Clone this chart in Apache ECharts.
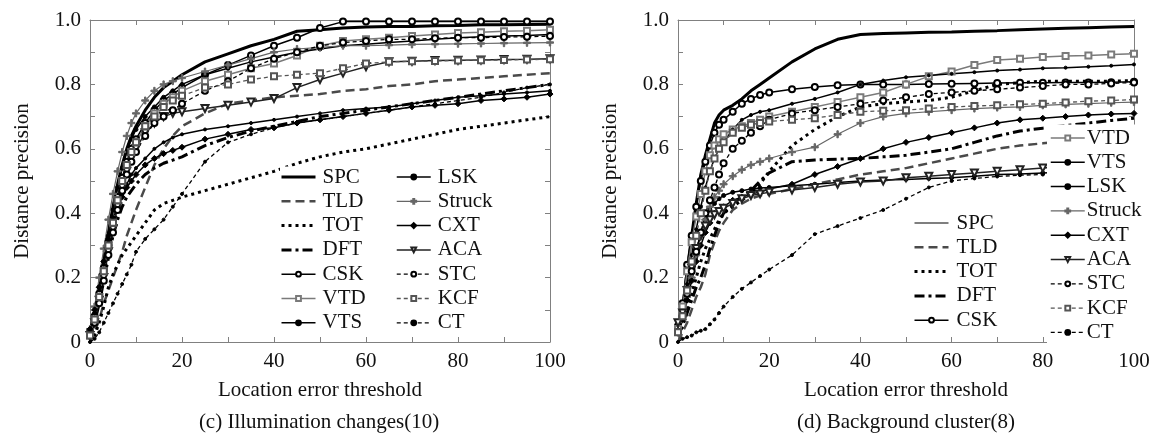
<!DOCTYPE html>
<html>
<head>
<meta charset="utf-8">
<script src="https://cdn.jsdelivr.net/npm/echarts@6/dist/echarts.min.js"></script>
<style>html,body{margin:0;padding:0;background:#fff}#c{width:1155px;height:439px}</style>
</head>
<body>
<div id="c"></div>
<script>
// Location error thresholds (x values)
const X = [0,1,2,3,4,5,6,7,8,9,10,12,14,16,18,20,25,30,35,40,45,50,55,60,65,70,75,80,85,90,95,100];
const xTicks = [0,20,40,60,80,100];
const yTicks = [0,0.2,0.4,0.6,0.8,1.0];
const names = ['SPC','TLD','TOT','DFT','CSK','VTD','VTS','LSK','Struck','CXT','ACA','STC','KCF','CT'];

// (c) Illumination changes(10)
const L_SPC = [0.03,0.09,0.17,0.26,0.34,0.42,0.49,0.55,0.60,0.64,0.67,0.72,0.76,0.79,0.81,0.83,0.87,0.895,0.92,0.94,0.965,0.97,0.975,0.978,0.98,0.98,0.982,0.983,0.985,0.985,0.986,0.987];
const L_TLD = [0.0,0.03,0.07,0.12,0.16,0.20,0.24,0.28,0.33,0.37,0.41,0.48,0.55,0.60,0.64,0.67,0.71,0.74,0.75,0.76,0.765,0.77,0.78,0.785,0.795,0.80,0.81,0.815,0.82,0.825,0.83,0.835];
const L_TOT = [0.0,0.02,0.06,0.11,0.17,0.21,0.24,0.27,0.29,0.31,0.33,0.37,0.41,0.43,0.44,0.45,0.47,0.49,0.51,0.53,0.555,0.575,0.59,0.60,0.615,0.63,0.645,0.66,0.67,0.68,0.69,0.70];
const L_DFT = [0.02,0.06,0.12,0.19,0.26,0.33,0.38,0.42,0.45,0.47,0.49,0.52,0.54,0.555,0.565,0.575,0.61,0.635,0.655,0.67,0.685,0.70,0.71,0.72,0.73,0.74,0.75,0.76,0.77,0.78,0.79,0.80];
const L_CSK = [0.03,0.08,0.15,0.23,0.31,0.38,0.45,0.51,0.56,0.60,0.63,0.68,0.72,0.75,0.77,0.79,0.83,0.86,0.89,0.92,0.945,0.975,0.995,0.995,0.995,0.995,0.995,0.995,0.995,0.995,0.995,0.995];
const L_VTD = [0.02,0.07,0.14,0.22,0.30,0.37,0.44,0.50,0.55,0.59,0.62,0.67,0.71,0.74,0.76,0.78,0.81,0.83,0.85,0.865,0.89,0.92,0.935,0.94,0.945,0.95,0.955,0.96,0.962,0.965,0.967,0.97];
const L_VTS = [0.03,0.09,0.16,0.24,0.31,0.37,0.42,0.46,0.49,0.52,0.54,0.57,0.60,0.62,0.635,0.645,0.66,0.67,0.68,0.69,0.70,0.71,0.72,0.725,0.73,0.74,0.75,0.76,0.765,0.77,0.775,0.78];
const L_LSK = [0.03,0.09,0.17,0.25,0.33,0.41,0.48,0.54,0.59,0.63,0.66,0.70,0.73,0.76,0.78,0.80,0.83,0.85,0.87,0.885,0.90,0.91,0.92,0.925,0.93,0.935,0.94,0.945,0.948,0.95,0.952,0.955];
const L_Struck = [0.04,0.11,0.20,0.29,0.38,0.46,0.53,0.59,0.64,0.68,0.71,0.75,0.78,0.80,0.81,0.82,0.84,0.86,0.88,0.90,0.91,0.915,0.92,0.92,0.922,0.924,0.925,0.926,0.927,0.928,0.929,0.93];
const L_CXT = [0.04,0.10,0.17,0.25,0.32,0.38,0.42,0.45,0.48,0.50,0.52,0.55,0.57,0.585,0.595,0.605,0.63,0.645,0.66,0.665,0.68,0.69,0.70,0.71,0.72,0.73,0.735,0.74,0.75,0.755,0.76,0.77];
const L_ACA = [0.02,0.06,0.13,0.20,0.28,0.35,0.42,0.48,0.53,0.57,0.60,0.65,0.68,0.70,0.71,0.715,0.725,0.735,0.745,0.756,0.79,0.815,0.835,0.855,0.87,0.872,0.874,0.875,0.876,0.877,0.878,0.88];
const L_STC = [0.02,0.06,0.12,0.19,0.27,0.34,0.41,0.47,0.52,0.56,0.59,0.64,0.68,0.70,0.72,0.74,0.78,0.81,0.85,0.88,0.90,0.92,0.93,0.935,0.94,0.94,0.943,0.945,0.945,0.947,0.948,0.95];
const L_KCF = [0.02,0.07,0.14,0.22,0.30,0.37,0.44,0.50,0.55,0.59,0.62,0.67,0.70,0.73,0.75,0.765,0.79,0.80,0.815,0.825,0.83,0.835,0.85,0.865,0.87,0.872,0.873,0.874,0.875,0.876,0.877,0.878];
const L_CT = [0.0,0.01,0.03,0.06,0.09,0.12,0.15,0.18,0.21,0.24,0.28,0.32,0.35,0.38,0.42,0.46,0.56,0.62,0.645,0.665,0.68,0.69,0.70,0.71,0.72,0.73,0.74,0.75,0.76,0.775,0.79,0.80];

// (d) Background cluster(8)
const R_SPC = [0.02,0.10,0.22,0.33,0.43,0.52,0.58,0.63,0.68,0.705,0.72,0.735,0.755,0.78,0.80,0.82,0.87,0.91,0.94,0.955,0.958,0.96,0.962,0.963,0.965,0.967,0.97,0.972,0.974,0.976,0.978,0.98];
const R_TLD = [0.0,0.03,0.06,0.10,0.14,0.17,0.21,0.27,0.31,0.345,0.37,0.41,0.43,0.445,0.455,0.46,0.475,0.49,0.505,0.52,0.53,0.54,0.555,0.57,0.585,0.60,0.61,0.617,0.624,0.63,0.635,0.64];
const R_TOT = [0.02,0.05,0.10,0.15,0.20,0.25,0.29,0.32,0.35,0.38,0.40,0.42,0.44,0.46,0.49,0.53,0.61,0.66,0.70,0.73,0.74,0.745,0.75,0.76,0.78,0.80,0.805,0.81,0.81,0.81,0.81,0.812];
const R_DFT = [0.02,0.05,0.09,0.13,0.17,0.20,0.24,0.29,0.33,0.37,0.40,0.43,0.45,0.47,0.50,0.525,0.56,0.565,0.568,0.57,0.575,0.58,0.59,0.60,0.62,0.64,0.655,0.664,0.672,0.68,0.688,0.695];
const R_CSK = [0.05,0.12,0.24,0.33,0.42,0.50,0.56,0.61,0.65,0.675,0.69,0.715,0.74,0.755,0.767,0.775,0.785,0.792,0.797,0.80,0.80,0.80,0.801,0.802,0.803,0.804,0.805,0.805,0.806,0.806,0.807,0.808];
const R_VTD = [0.04,0.11,0.22,0.31,0.39,0.46,0.53,0.58,0.61,0.63,0.645,0.66,0.67,0.68,0.69,0.70,0.715,0.73,0.745,0.76,0.775,0.80,0.825,0.84,0.86,0.876,0.88,0.885,0.888,0.89,0.893,0.895];
const R_VTS = [0.04,0.09,0.18,0.27,0.35,0.42,0.48,0.53,0.57,0.60,0.62,0.66,0.69,0.705,0.715,0.72,0.74,0.755,0.775,0.80,0.812,0.822,0.828,0.833,0.838,0.843,0.846,0.85,0.852,0.855,0.858,0.862];
const R_LSK = [0.03,0.08,0.15,0.22,0.28,0.34,0.38,0.41,0.43,0.445,0.455,0.465,0.47,0.475,0.478,0.48,0.485,0.49,0.495,0.50,0.503,0.505,0.508,0.51,0.515,0.52,0.522,0.525,0.528,0.53,0.533,0.535];
const R_Struck = [0.03,0.07,0.14,0.20,0.27,0.33,0.38,0.42,0.45,0.47,0.49,0.515,0.535,0.55,0.56,0.57,0.59,0.605,0.645,0.68,0.70,0.71,0.715,0.72,0.725,0.728,0.73,0.735,0.738,0.74,0.743,0.745];
const R_CXT = [0.03,0.07,0.13,0.19,0.25,0.30,0.34,0.37,0.40,0.41,0.42,0.44,0.45,0.46,0.465,0.475,0.49,0.52,0.545,0.57,0.60,0.62,0.635,0.65,0.665,0.68,0.69,0.695,0.70,0.705,0.708,0.71];
const R_ACA = [0.06,0.09,0.16,0.23,0.29,0.33,0.36,0.38,0.395,0.405,0.415,0.43,0.445,0.455,0.46,0.465,0.472,0.48,0.49,0.497,0.50,0.51,0.515,0.52,0.525,0.53,0.535,0.54,0.545,0.55,0.56,0.57];
const R_STC = [0.03,0.08,0.15,0.22,0.28,0.34,0.40,0.44,0.48,0.52,0.555,0.60,0.625,0.65,0.67,0.69,0.71,0.72,0.73,0.74,0.75,0.76,0.77,0.775,0.78,0.785,0.79,0.795,0.80,0.80,0.803,0.806];
const R_KCF = [0.03,0.08,0.16,0.25,0.33,0.40,0.47,0.53,0.57,0.60,0.62,0.65,0.665,0.675,0.68,0.685,0.69,0.695,0.705,0.715,0.718,0.72,0.725,0.73,0.733,0.735,0.738,0.74,0.744,0.748,0.75,0.753];
const R_CT = [0.0,0.01,0.015,0.02,0.03,0.035,0.04,0.055,0.07,0.09,0.11,0.14,0.165,0.185,0.205,0.225,0.27,0.335,0.36,0.385,0.41,0.445,0.48,0.50,0.508,0.514,0.518,0.52,0.522,0.524,0.526,0.528];

const LEFT = {SPC:L_SPC,TLD:L_TLD,TOT:L_TOT,DFT:L_DFT,CSK:L_CSK,VTD:L_VTD,VTS:L_VTS,LSK:L_LSK,Struck:L_Struck,CXT:L_CXT,ACA:L_ACA,STC:L_STC,KCF:L_KCF,CT:L_CT};
const RIGHT = {SPC:R_SPC,TLD:R_TLD,TOT:R_TOT,DFT:R_DFT,CSK:R_CSK,VTD:R_VTD,VTS:R_VTS,LSK:R_LSK,Struck:R_Struck,CXT:R_CXT,ACA:R_ACA,STC:R_STC,KCF:R_KCF,CT:R_CT};

const PLUS = 'path://M4,0h2v4h4v2h-4v4h-2v-4h-4v-2h4z';
const STY = {
  SPC:{c:'#000',w:3,t:'solid',s:'none'},
  TLD:{c:'#4a4a4a',w:2.5,t:[9,5],s:'none'},
  TOT:{c:'#000',w:3,t:[3,4],s:'none'},
  DFT:{c:'#000',w:3,t:[10,4,3,4],s:'none'},
  CSK:{c:'#000',w:1.5,t:'solid',s:'emptyCircle',z:6},
  VTD:{c:'#7a7a7a',w:1.5,t:'solid',s:'emptyRect',z:6},
  VTS:{c:'#000',w:1.5,t:'solid',s:'circle',z:3},
  LSK:{c:'#000',w:1.5,t:'solid',s:'circle',z:4},
  Struck:{c:'#666',w:1.2,t:'solid',s:PLUS,z:7},
  CXT:{c:'#000',w:1.5,t:'solid',s:'diamond',z:6},
  ACA:{c:'#222',w:1.5,t:'solid',s:'emptyTriangle',z:7,r:180},
  STC:{c:'#000',w:1.3,t:[4,3],s:'emptyCircle',z:6},
  KCF:{c:'#555',w:1.3,t:[4,3],s:'emptyRect',z:6},
  CT:{c:'#000',w:1.3,t:[4,3],s:'circle',z:3}
};

const FONT = 'Liberation Serif';
const series = [];
function add(panel, suffix, data) {
  names.forEach(n => {
    const st = STY[n];
    series.push({
      type:'line', name:n+suffix, xAxisIndex:panel*2, yAxisIndex:panel*2,
      data: X.map((x,i)=>[x, data[n][i]]),
      symbol: st.s, symbolSize: st.z||0, symbolRotate: st.r||0, showSymbol: st.s!=='none',
      lineStyle:{color:st.c,width:st.w,type:st.t},
      itemStyle:{color:st.c,borderColor:st.c,borderWidth:1},
      silent:true, animation:false
    });
  });
}
add(0,'',LEFT);
add(1,' ',RIGHT);

function xAx(grid, top) {
  return {type:'value', gridIndex:grid, min:0, max:100, interval:10, position: top?'top':'bottom',
    name: top?'':'Location error threshold', nameLocation:'middle', nameGap:38,
    nameTextStyle:{fontFamily:FONT,fontSize:21,color:'#111'},
    axisLine:{show:true,onZero:false,lineStyle:{color:'#808080',width:1}},
    axisTick:{show:true,inside:true,length:5,lineStyle:{color:'#808080'}},
    axisLabel:{show:!top,margin:9,fontFamily:FONT,fontSize:21,color:'#111',
      formatter:v=> xTicks.includes(v)? String(v):''},
    splitLine:{show:false}};
}
function yAx(grid, right) {
  return {type:'value', gridIndex:grid, min:0, max:1, interval:0.1, position: right?'right':'left',
    name: right?'':'Distance precision', nameLocation:'middle', nameGap:57,
    nameTextStyle:{fontFamily:FONT,fontSize:21,color:'#111'},
    axisLine:{show:true,onZero:false,lineStyle:{color:'#808080',width:1}},
    axisTick:{show:true,inside:true,length:5,lineStyle:{color:'#808080'}},
    axisLabel:{show:!right,margin:9,fontFamily:FONT,fontSize:21,color:'#111',
      formatter:v=>{const k=Math.round(v*10); const t=yTicks.find(q=>Math.round(q*10)===k); return t===undefined?'':(k===0?'0':t.toFixed(1));}},
    splitLine:{show:false}};
}

function legend(list, suffix, left, top, gap, bg, pad) {
  return {show:true, orient:'vertical', left:left, top:top, padding:pad||0, itemGap:3.3,
    itemWidth:34, itemHeight:6, selectedMode:false, backgroundColor:bg||'transparent',
    data:list.map(n=>{
      const st = STY[n];
      const item = {name:n+suffix, lineStyle:{width:(suffix && n==='SPC') ? 1.2 : st.w}};
      if (st.s==='none') item.itemStyle = {opacity:0};
      return item;
    }),
    formatter:n=>n.trim(),
    textStyle:{fontFamily:FONT,fontSize:21,color:'#111',padding:[0,0,0,gap]}};
}

const chart = echarts.init(document.getElementById('c'), null, {renderer:'canvas'});
chart.setOption({
  animation:false,
  backgroundColor:'#fff',
  grid:[{left:90,top:20,width:460,height:322},{left:678,top:20,width:456,height:322}],
  xAxis:[xAx(0,false),xAx(0,true),xAx(1,false),xAx(1,true)],
  yAxis:[yAx(0,false),yAx(0,true),yAx(1,false),yAx(1,true)],
  legend:[
    legend(names.slice(0,7),'',280,166.5,2,'#fff'),
    legend(names.slice(7),'',396,166.5,2,'#fff'),
    legend(names.slice(0,5),' ',913,212.5,3,'#fff'),
    legend(names.slice(5),' ',1047,124.5,-3,'#fff',[3,0,6,3])
  ],
  graphic:[
    {type:'text',x:319,y:422,style:{text:'(c) Illumination changes(10)',fontFamily:FONT,fontSize:21,fill:'#111',textAlign:'center',textVerticalAlign:'middle'}},
    {type:'text',x:906,y:422,style:{text:'(d) Background cluster(8)',fontFamily:FONT,fontSize:21,fill:'#111',textAlign:'center',textVerticalAlign:'middle'}}
  ],
  series:series
});
</script>
</body>
</html>
